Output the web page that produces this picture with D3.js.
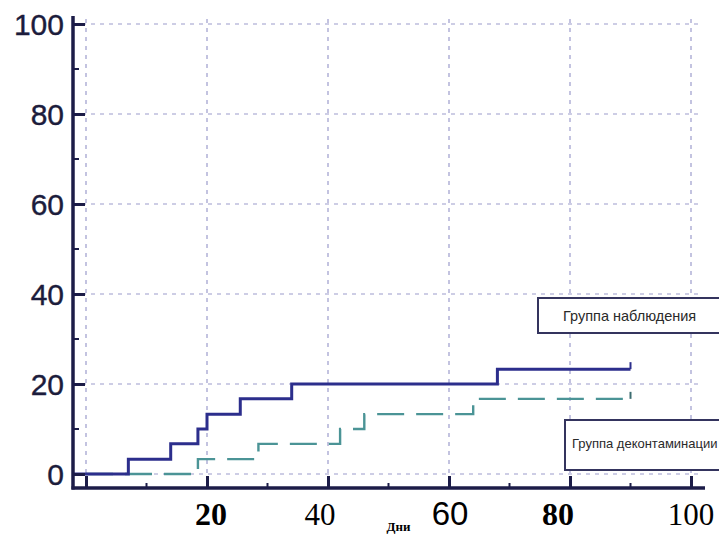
<!DOCTYPE html>
<html>
<head>
<meta charset="utf-8">
<script src="https://cdn.jsdelivr.net/npm/d3@7"></script>
<style>
body { margin: 0; background: #fff; }
</style>
</head>
<body>
<script>
// data (days, cumulative %)
var seriesNames = ['Группа наблюдения', 'Группа деконтаминации'];
var obsDays = [0, 7, 14, 18.5, 20, 25.5, 34, 68, 90];
var obsPct = [0, 3.3, 6.7, 10, 13.3, 16.7, 20, 23.3, 23.3];
var deconDays = [0, 18.5, 28.5, 42, 46, 64, 90];
var deconPct = [0, 3.3, 6.7, 10, 13.3, 16.7, 16.7];

var yTicks = [0, 20, 40, 60, 80, 100];
var yMinor = [10, 30, 50, 70, 90];
var xTicks = [0, 20, 40, 60, 80, 100];
var xMinor = [10, 30, 50, 70, 90];
var xLabels = [20, 40, 60, 80, 100];
var xTitle = 'Дни';

// the bottom labels were pasted in with mixed fonts
var labelFont = [
  {family: '"Liberation Serif", serif', weight: 'bold', size: 32, dx: 4},
  {family: '"Liberation Serif", serif', weight: 'normal', size: 31, dx: -8},
  {family: '"Liberation Sans", Arial, sans-serif', weight: 'normal', size: 33, dx: 1},
  {family: '"Liberation Serif", serif', weight: 'bold', size: 32, dx: -12},
  {family: '"Liberation Serif", serif', weight: 'normal', size: 31, dx: 0}
];

var width = 719, height = 536;
var axisX = 73, axisY = 488;

var svg = d3.select('body').append('svg')
  .attr('width', width)
  .attr('height', height)
  .style('background', '#fff');

var x = d3.scaleLinear().domain([0, 100]).range([86, 691]);
var y = d3.scaleLinear().domain([0, 100]).range([474, 24]);

var gridColor = '#9c9ccc';

// grid
svg.append('g').selectAll('line')
  .data(yTicks).enter().append('line')
  .attr('x1', axisX).attr('x2', 701)
  .attr('y1', function(d) { return y(d); })
  .attr('y2', function(d) { return y(d); })
  .attr('stroke', gridColor)
  .attr('stroke-width', 1.2)
  .attr('stroke-dasharray', '4,5');

svg.append('g').selectAll('line')
  .data(xTicks).enter().append('line')
  .attr('x1', function(d) { return x(d); })
  .attr('x2', function(d) { return x(d); })
  .attr('y1', 19).attr('y2', axisY)
  .attr('stroke', gridColor)
  .attr('stroke-width', 1.2)
  .attr('stroke-dasharray', '4,5');

// legend boxes
var boxes = svg.append('g');
boxes.append('rect')
  .attr('x', 538).attr('y', 298).attr('width', 190).attr('height', 35)
  .attr('fill', '#fff').attr('stroke', '#34345e').attr('stroke-width', 2);
boxes.append('text')
  .attr('x', 563).attr('y', 321)
  .attr('font-family', '"Liberation Sans", Arial, sans-serif')
  .attr('font-size', 14.5)
  .attr('fill', '#2a2a2a')
  .text(seriesNames[0]);
boxes.append('rect')
  .attr('x', 565).attr('y', 420).attr('width', 170).attr('height', 50)
  .attr('fill', '#fff').attr('stroke', '#34345e').attr('stroke-width', 2);
boxes.append('text')
  .attr('x', 572).attr('y', 448)
  .attr('font-family', '"Liberation Sans", Arial, sans-serif')
  .attr('font-size', 13)
  .attr('fill', '#2a2a2a')
  .text(seriesNames[1]);

// step lines
var line = d3.line()
  .x(function(d) { return x(d[0]); })
  .y(function(d) { return y(d[1]); })
  .curve(d3.curveStepAfter);

var obs = d3.zip(obsDays, obsPct);
var decon = d3.zip(deconDays, deconPct);

svg.append('path')
  .datum(decon)
  .attr('d', line)
  .attr('fill', 'none')
  .attr('stroke', '#4b9496')
  .attr('stroke-width', 2.4)
  .attr('stroke-dasharray', '27,12');

svg.append('path')
  .datum([[-2, 0]].concat(obs))
  .attr('d', line)
  .attr('fill', 'none')
  .attr('stroke', '#2c2e8c')
  .attr('stroke-width', 3);

// censor marks at the end of each line
[obs, decon].forEach(function(s, i) {
  var last = s[s.length - 1];
  svg.append('line')
    .attr('x1', x(last[0])).attr('x2', x(last[0]))
    .attr('y1', y(last[1])).attr('y2', y(last[1]) - 7)
    .attr('stroke', i === 0 ? '#2c2e8c' : '#3c6c70')
    .attr('stroke-width', 2);
});

// y axis
var yAxis = svg.append('g')
  .attr('transform', 'translate(' + axisX + ',0)')
  .call(d3.axisLeft(y).tickValues(yTicks).tickSizeInner(-12).tickSizeOuter(0).tickPadding(9));
yAxis.select('.domain').remove();
yAxis.selectAll('.tick line').attr('stroke', '#1c1c48').attr('stroke-width', 3);
yAxis.selectAll('.tick text')
  .attr('font-family', '"Liberation Sans", Arial, sans-serif')
  .attr('font-size', 30)
  .attr('fill', '#1c1c3c')
  .attr('stroke', '#1c1c3c')
  .attr('stroke-width', 0.4)
  .attr('dy', '0.36em');

svg.append('g').selectAll('line')
  .data(yMinor).enter().append('line')
  .attr('x1', axisX).attr('x2', axisX + 6)
  .attr('y1', function(d) { return y(d); })
  .attr('y2', function(d) { return y(d); })
  .attr('stroke', '#1c1c48').attr('stroke-width', 2);

svg.append('line')
  .attr('x1', axisX).attr('x2', axisX)
  .attr('y1', 16).attr('y2', axisY + 1.5)
  .attr('stroke', '#1c1c48').attr('stroke-width', 3.5);

// x axis
var xAxis = svg.append('g')
  .attr('transform', 'translate(0,' + axisY + ')')
  .call(d3.axisBottom(x).tickValues(xTicks).tickSizeInner(-12).tickSizeOuter(0).tickFormat(''));
xAxis.select('.domain').remove();
xAxis.selectAll('.tick line').attr('stroke', '#1c1c48').attr('stroke-width', 3);

svg.append('g').selectAll('line')
  .data(xMinor).enter().append('line')
  .attr('x1', function(d) { return x(d); })
  .attr('x2', function(d) { return x(d); })
  .attr('y1', axisY).attr('y2', axisY - 5)
  .attr('stroke', '#1c1c48').attr('stroke-width', 2);

svg.append('line')
  .attr('x1', axisX - 1.5).attr('x2', 705)
  .attr('y1', axisY).attr('y2', axisY)
  .attr('stroke', '#1c1c48').attr('stroke-width', 3.5);

// bottom labels
svg.append('g').selectAll('text')
  .data(xLabels).enter().append('text')
  .attr('x', function(d, i) { return x(d) + labelFont[i].dx; })
  .attr('y', 525)
  .attr('text-anchor', 'middle')
  .attr('font-family', function(d, i) { return labelFont[i].family; })
  .attr('font-weight', function(d, i) { return labelFont[i].weight; })
  .attr('font-size', function(d, i) { return labelFont[i].size; })
  .attr('fill', '#000')
  .text(function(d) { return d; });

svg.append('text')
  .attr('x', (x(40) + x(60)) / 2 + 10)
  .attr('y', 531)
  .attr('text-anchor', 'middle')
  .attr('font-family', '"Liberation Serif", serif')
  .attr('font-weight', 'bold')
  .attr('font-size', 13)
  .text(xTitle);
</script>
</body>
</html>
